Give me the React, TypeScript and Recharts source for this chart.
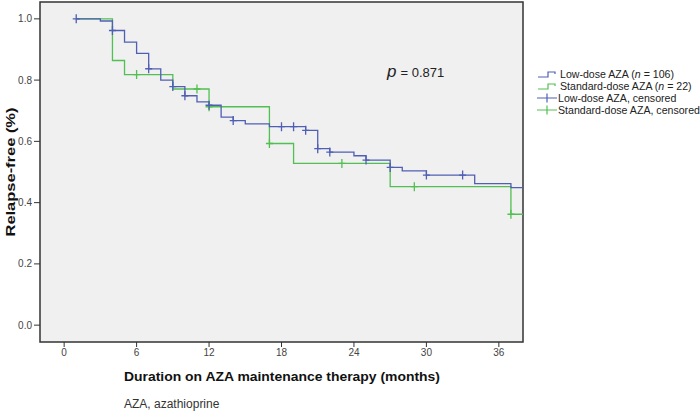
import { ComposedChart, Line, Scatter, XAxis, YAxis, CartesianGrid, ReferenceArea } from 'recharts';

// step points: month where survival drops to the new value
const lowDoseSteps = [
    { t: 1, s: 1.0 }, { t: 3, s: 0.993 }, { t: 4, s: 0.962 }, { t: 5, s: 0.924 },
    { t: 6, s: 0.887 }, { t: 7, s: 0.837 }, { t: 8, s: 0.8 }, { t: 9, s: 0.779 },
    { t: 10, s: 0.749 }, { t: 11, s: 0.729 }, { t: 12, s: 0.718 }, { t: 13, s: 0.679 },
    { t: 14, s: 0.668 }, { t: 15, s: 0.657 }, { t: 17, s: 0.648 }, { t: 20, s: 0.636 },
    { t: 21, s: 0.576 }, { t: 22, s: 0.565 }, { t: 24, s: 0.553 }, { t: 25, s: 0.539 },
    { t: 27, s: 0.515 }, { t: 28, s: 0.504 }, { t: 30, s: 0.49 }, { t: 34, s: 0.462 },
    { t: 37, s: 0.449 }, { t: 38, s: 0.449 },
];
const standardDoseSteps = [
    { t: 1, s: 1.0 }, { t: 4, s: 0.864 }, { t: 5, s: 0.818 }, { t: 9, s: 0.771 },
    { t: 12, s: 0.713 }, { t: 17, s: 0.593 }, { t: 19, s: 0.528 }, { t: 27, s: 0.452 },
    { t: 37, s: 0.362 }, { t: 38, s: 0.362 },
];

const lowDoseCensored = [1, 4, 7, 9, 10, 12, 14, 18, 19, 20, 21, 22, 25, 27, 30, 33];
const standardDoseCensored = [6, 11, 12, 17, 23, 29, 37];

const xTicks = [0, 6, 12, 18, 24, 30, 36];
const yTicks = [0, 0.2, 0.4, 0.6, 0.8, 1.0];

const BLUE = '#4f5fb3';
const GREEN = '#52bf52';
const FONT = '"Liberation Sans", Arial, sans-serif';

const survivalAt = (steps: { t: number; s: number }[], t: number) => {
    let s = steps[0].s;
    for (const p of steps) if (p.t <= t) s = p.s;
    return s;
};

const lowCensorPts = lowDoseCensored.map((t) => ({ t, s: survivalAt(lowDoseSteps, t) }));
const stdCensorPts = standardDoseCensored.map((t) => ({ t, s: survivalAt(standardDoseSteps, t) }));

const plus = (color: string) => (props: any) => {
    const { cx, cy } = props;
    return <path d={`M${cx - 3.5},${cy}h7M${cx},${cy - 4.5}v9`} stroke={color} strokeWidth={1.3} fill="none" />;
};

const StepIcon = ({ color }: { color: string }) => (
    <svg width={20} height={10} style={{ marginRight: 3, flexShrink: 0 }}>
        <path d="M1,8H11V3H18V5" stroke={color} strokeWidth={1.2} fill="none" />
    </svg>
);
const CensorIcon = ({ color }: { color: string }) => (
    <svg width={20} height={10} style={{ marginRight: 1, flexShrink: 0 }}>
        <path d="M0,5H20M10,0.5V9.5" stroke={color} strokeWidth={1.2} fill="none" />
    </svg>
);

const LegendBox = () => {
    const row = { display: 'flex', alignItems: 'center', height: 12, whiteSpace: 'nowrap' as const };
    return (
        <div style={{ position: 'absolute', left: 537, top: 68, width: 163, fontFamily: FONT, fontSize: 10.6, color: '#222', lineHeight: '12px' }}>
            <div style={row}><StepIcon color={BLUE} />Low-dose AZA (<i>n</i>&nbsp;= 106)</div>
            <div style={row}><StepIcon color={GREEN} />Standard-dose AZA (<i>n</i>&nbsp;= 22)</div>
            <div style={row}><CensorIcon color={BLUE} />Low-dose AZA, censored</div>
            <div style={row}><CensorIcon color={GREEN} />Standard-dose AZA, censored</div>
        </div>
    );
};

export default function App() {
    return (
        <div style={{ position: 'absolute', left: 0, top: 0, width: 700, height: 412, background: '#fff', overflow: 'hidden' }}>
            <ComposedChart width={700} height={412} margin={{ top: 2, right: 177, bottom: 0, left: 0 }}>
                <CartesianGrid horizontal={false} vertical={false} fill="#f0f0f0" />
                <XAxis
                    dataKey="t"
                    type="number"
                    domain={[-2, 38]}
                    ticks={xTicks}
                    allowDataOverflow
                    height={70}
                    tickSize={5}
                    axisLine={false}
                    tickLine={{ stroke: '#333' }}
                    tick={{ fontSize: 10, fill: '#444', fontFamily: FONT }}
                />
                <YAxis
                    dataKey="s"
                    type="number"
                    domain={[-0.055, 1.055]}
                    ticks={yTicks}
                    allowDataOverflow
                    width={40}
                    tickSize={6}
                    axisLine={false}
                    tickLine={{ stroke: '#333' }}
                    tick={{ fontSize: 10, fill: '#444', fontFamily: FONT }}
                    tickFormatter={(v) => v.toFixed(1)}
                />
                <ReferenceArea x1={-2} x2={38} y1={-0.055} y2={1.055} fill="none" stroke="#333" strokeWidth={1.5} />
                <Line data={standardDoseSteps} dataKey="s" type="stepAfter" stroke={GREEN} strokeWidth={1.3} dot={false} isAnimationActive={false} />
                <Line data={lowDoseSteps} dataKey="s" type="stepAfter" stroke={BLUE} strokeWidth={1.3} dot={false} isAnimationActive={false} />
                <Scatter data={stdCensorPts} dataKey="s" shape={plus(GREEN)} isAnimationActive={false} />
                <Scatter data={lowCensorPts} dataKey="s" shape={plus(BLUE)} isAnimationActive={false} />
            </ComposedChart>
            <LegendBox />
            <svg width={700} height={412} style={{ position: 'absolute', left: 0, top: 0, pointerEvents: 'none' }}>
                <text
                    transform="translate(15,172) rotate(-90)"
                    textAnchor="middle"
                    fontFamily={FONT}
                    fontWeight="bold"
                    fontSize={13}
                    fill="#111"
                    textLength={129}
                    lengthAdjust="spacingAndGlyphs"
                >
                    Relapse-free (%)
                </text>
                <text x={387} y={77} fontFamily={FONT} fill="#222">
                    <tspan fontStyle="italic" fontSize={17}>p</tspan>
                    <tspan fontSize={13} dx={4}>= 0.871</tspan>
                </text>
                <text x={124} y={381} fontFamily={FONT} fontWeight="bold" fontSize={13} fill="#111" textLength={316} lengthAdjust="spacingAndGlyphs">
                    Duration on AZA maintenance therapy (months)
                </text>
                <text x={124} y={408} fontFamily={FONT} fontSize={12} fill="#333">
                    AZA, azathioprine
                </text>
            </svg>
        </div>
    );
}
